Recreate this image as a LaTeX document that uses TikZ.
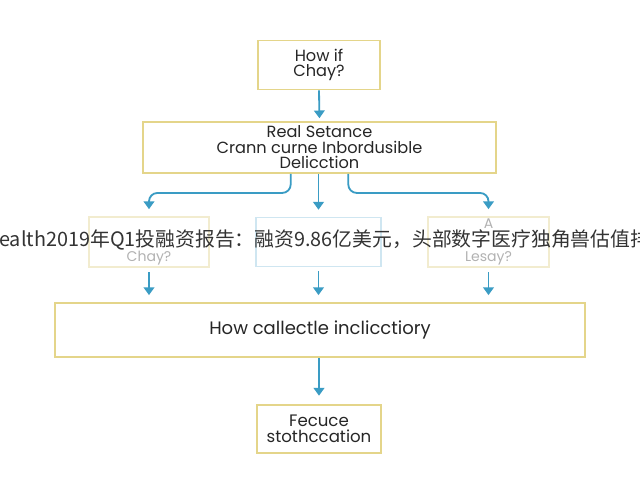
\documentclass[tikz,border=0pt]{standalone}
\usepackage{fontspec}
\setmainfont{Poppins}
\newfontfamily\cjk{Noto Sans CJK SC}
\usetikzlibrary{arrows.meta}

\definecolor{boxline}{HTML}{E4D58A}
\definecolor{fadeline}{HTML}{F2ECCF}
\definecolor{fadeblue}{HTML}{CFE6F1}
\definecolor{flowblue}{HTML}{3A9CC4}

\tikzset{
  box/.style={draw=boxline,line width=1.2pt,fill=white,align=center,text=black!85,
    font=\fontsize{11.5}{11}\selectfont,inner sep=1pt},
  faded/.style={draw=fadeline,line width=1.2pt,align=center,text=black!30,
    font=\fontsize{10}{12}\selectfont,inner sep=1pt},
  flow/.style={draw=flowblue,line width=1.3pt,-{Triangle[width=7.5pt,length=5.5pt]}},
}

\begin{document}
\begin{tikzpicture}[x=0.025cm,y=-0.025cm]
    \useasboundingbox[fill=white] (0,0) rectangle (640,480);
    \clip (0,0) rectangle (640,480);

    \node[box,minimum width=3.05cm,minimum height=1.23cm] (Q) at (319,65) {How if\\Chay?};
    \node[box,minimum width=8.83cm,minimum height=1.28cm] (R) at (319.5,147.5) {Real Setance\\Crann curne Inbordusible\\Delicction};
    \node[faded,minimum width=3.0cm,minimum height=1.22cm] (A) at (149,242) {\phantom{A}\\\phantom{A}\\Chay?};
    \node[faded,draw=fadeblue,minimum width=3.12cm,minimum height=1.22cm] (B) at (318.5,242) {};
    \node[faded,minimum width=3.02cm,minimum height=1.22cm] (C) at (488.5,242) {A\\\phantom{A}\\Lesay?};
    \node[box,minimum width=13.25cm,minimum height=1.35cm,font=\fontsize{12.8}{14}\selectfont] (H) at (320,330) {How callectle inclicctiory};
    \node[box,minimum width=3.1cm,minimum height=1.2cm,font=\fontsize{11.8}{11.5}\selectfont] (F) at (319,429) {Fecuce\\stothccation};

    \draw [flow,shorten >=2pt] (Q.south) -- (R.north);
    \draw [flow,rounded corners=6pt,shorten >=5pt] ([xshift=-0.72cm]R.south) -- ++(0,19) -| (A.north);
    \draw [flow,shorten >=5pt] (R.south -| B.north) -- (B.north);
    \draw [flow,rounded corners=6pt,shorten >=5pt] ([xshift=0.72cm]R.south) -- ++(0,19) -| (C.north);
    \draw [flow,shorten <=3pt,shorten >=5pt] (A.south) -- (A.south |- H.north);
    \draw [flow,shorten <=3pt,shorten >=5pt] (B.south) -- (B.south |- H.north);
    \draw [flow,shorten <=3pt,shorten >=5pt] (C.south) -- (C.south |- H.north);
    \draw [flow,shorten >=6pt] (H.south -| F.north) -- (F.north);

    % caption laid over the middle row
    \node[anchor=west,inner sep=0pt,text=black!80,font=\cjk\fontsize{14.1}{16}\selectfont] (banner) at (-1,240)
        {ealth2019年Q1投融资报告：融资9.86亿美元，头部数字医疗独角兽估值排};
\end{tikzpicture}
\end{document}
